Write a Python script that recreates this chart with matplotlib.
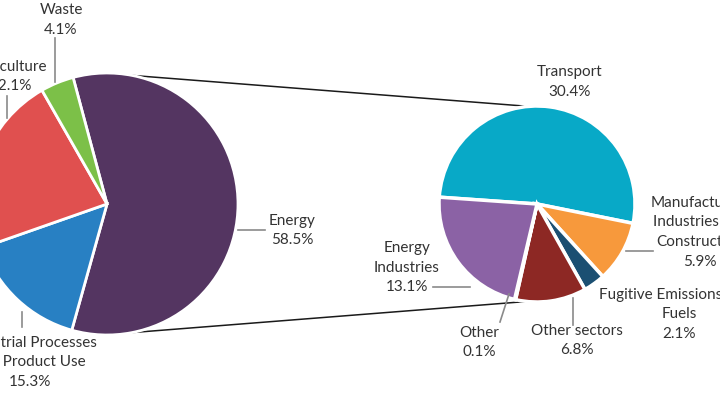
import numpy as np
import matplotlib.pyplot as plt

plt.rcParams['font.family'] = ['Lato', 'DejaVu Sans']

# total emissions by sector (%)
main_labels = ['Energy', 'Industrial Processes\nand Product Use', 'Agriculture', 'Waste']
main_values = [58.5, 15.3, 22.1, 4.1]
main_colors = ['#543561', '#2880c3', '#e0504f', '#7cc048']

# breakdown of the energy sector (%)
energy_labels = ['Transport', 'Manufacturing\nIndustries and\nConstruction',
                 'Fugitive Emissions from\nFuels', 'Other sectors', 'Other',
                 'Energy\nIndustries']
energy_values = [30.4, 5.9, 2.1, 6.8, 0.1, 13.1]
energy_colors = ['#08a9c7', '#f7993c', '#1b4f72', '#8d2824', '#b0b0b0', '#8b62a5']

W, H = 720, 393
txt_color = '#333333'
lead_color = '#8a8a8a'

fig = plt.figure(figsize=(W / 100, H / 100), dpi=100)
ax = fig.add_axes([0, 0, 1, 1])

left_c, left_r = (107, H - 204), 131
right_c, right_r = (537, H - 204), 98

ax.pie(main_values, colors=main_colors, startangle=105, counterclock=False,
       center=left_c, radius=left_r,
       wedgeprops=dict(edgecolor='white', linewidth=2))
ax.pie(energy_values, colors=energy_colors, startangle=176, counterclock=False,
       center=right_c, radius=right_r,
       wedgeprops=dict(edgecolor='white', linewidth=2.5))

# lines joining the energy slice to the breakdown pie
for a_left, a_right in [(79, 95), (-79, -96)]:
    x1 = left_c[0] + left_r * np.cos(np.radians(a_left))
    y1 = left_c[1] + left_r * np.sin(np.radians(a_left))
    x2 = right_c[0] + right_r * np.cos(np.radians(a_right))
    y2 = right_c[1] + right_r * np.sin(np.radians(a_right))
    ax.plot([x1, x2], [y1, y2], color='#1a1a1a', lw=1.1, zorder=0)

# label positions (x, y of first line) and leader lines, in image pixels
main_pos = [(292, 221), (30, 343), (10, 67), (61, 10)]
main_lead = [((238, 230), (265, 230)), ((22, 312), (22, 327)),
             ((7, 118), (7, 96)), ((55, 82), (55, 38))]
energy_pos = [(570, 72), (700, 203), (679, 295), (577, 331), (479, 333), (407, 248)]
energy_lead = [None, ((626, 251), (653, 251)), None, ((573, 298), (573, 325)),
               ((509, 294), (500, 322)), ((470, 287), (433, 287))]

def put_labels(labels, values, pos, leads):
    for lab, val, (x, y), ld in zip(labels, values, pos, leads):
        lines = lab.split('\n') + ['%.1f%%' % val]
        for k, s in enumerate(lines):
            ax.text(x, H - (y + 19.5 * k), s, ha='center', va='center',
                    fontsize=11, color=txt_color)
        if ld is not None:
            (xa, ya), (xb, yb) = ld
            ax.plot([xa, xb], [H - ya, H - yb], color=lead_color, lw=1.2)

put_labels(main_labels, main_values, main_pos, main_lead)
put_labels(energy_labels, energy_values, energy_pos, energy_lead)

ax.set_xlim(0, W)
ax.set_ylim(0, H)
ax.set_aspect('equal')
ax.axis('off')

fig.savefig('out.png', dpi=100)
